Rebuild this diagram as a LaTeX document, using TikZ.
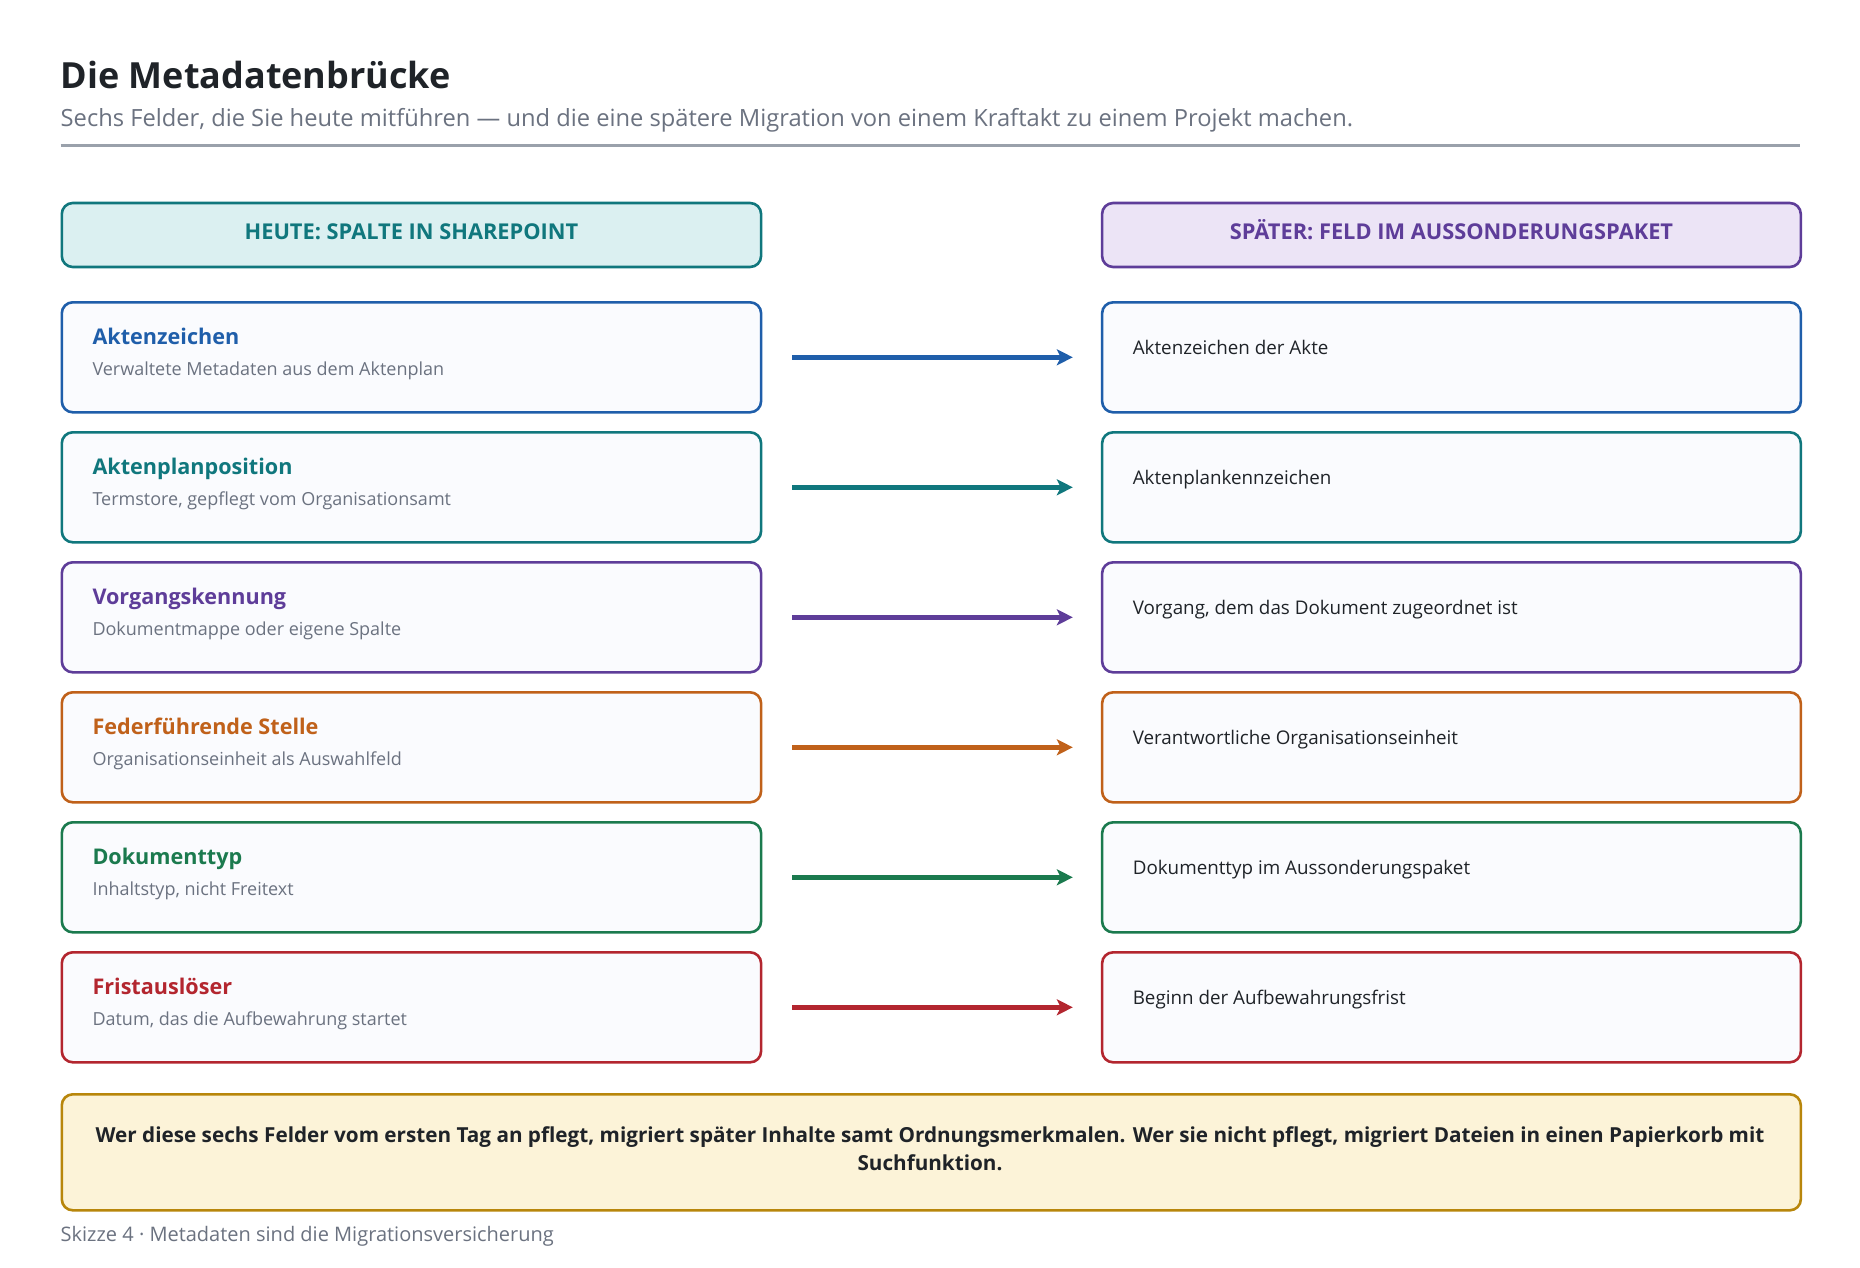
\documentclass[tikz,border=0pt]{standalone}
\usepackage{fontspec}
\setmainfont{Open Sans}
\usetikzlibrary{arrows.meta}
\definecolor{ink}{HTML}{1F2328}
\definecolor{muted}{HTML}{6B7280}
\definecolor{rulegray}{HTML}{9AA1AB}
\definecolor{cblue}{HTML}{1F5EAA}
\definecolor{cteal}{HTML}{10777D}
\definecolor{cpurple}{HTML}{5E3D99}
\definecolor{corange}{HTML}{C0611A}
\definecolor{cgreen}{HTML}{1B7A4E}
\definecolor{cred}{HTML}{B3262F}
\definecolor{tealfill}{HTML}{DBF0F1}
\definecolor{purplefill}{HTML}{ECE4F6}
\definecolor{rowfill}{HTML}{FAFBFE}
\definecolor{goldline}{HTML}{B8860B}
\definecolor{goldfill}{HTML}{FCF3D8}
\newcommand{\fs}[1]{\fontsize{#1}{#1}\selectfont}
\tikzset{
  box/.style={draw=#1, line width=2.6pt, rounded corners=11pt, anchor=north west, inner sep=0pt},
  rowbox/.style={box=#1, fill=rowfill, minimum height=110pt},
  lbox/.style={minimum width=699.3pt},
  rbox/.style={minimum width=698.7pt},
  txt/.style={inner sep=0pt, anchor=base west},
  hdrtext/.style={inner sep=0pt, anchor=base, text=#1, font=\fs{21.8}\bfseries},
  rtitle/.style={txt, text=#1, font=\fs{21.6}\bfseries},
  rsub/.style={txt, text=muted, font=\fs{18}},
  rtext/.style={txt, text=ink, font=\fs{18.8}},
  conn/.style={draw=#1, line width=5pt, -{Stealth[length=16pt, width=16pt, inset=4pt]}},
}
\begin{document}
\begin{tikzpicture}[x=1pt, y=-1pt]
\useasboundingbox[fill=white] (0,0) rectangle (1860,1268);

% heading
\node[txt, text=ink, font=\fs{36}\bfseries] (title) at (60.5,89) {Die Metadatenbrücke};
\node[txt, text=muted, font=\fs{23.7}] (subtitle) at (60.5,127) {Sechs Felder, die Sie heute mitführen — und die eine spätere Migration von einem Kraftakt zu einem Projekt machen.};
\coordinate (ruleA) at (60.5,146);
\coordinate (ruleB) at (1799.5,146);
\draw[rulegray, line width=3pt] (ruleA) -- (ruleB);

% column headers
\node[box=cteal, fill=tealfill, lbox, minimum height=64pt] (HL) at (60.5,201.7) {};
\node[box=cpurple, fill=purplefill, rbox, minimum height=64pt] (HR) at (1100.8,201.7) {};
\node[hdrtext=cteal] (HLt) at ([yshift=-4pt]HL.center) {HEUTE: SPALTE IN SHAREPOINT};
\node[hdrtext=cpurple] (HRt) at ([yshift=-4pt]HR.center) {SPÄTER: FELD IM AUSSONDERUNGSPAKET};

% row 1
\node[rowbox=cblue, lbox] (L1) at (60.5,301) {};
\node[rowbox=cblue, rbox] (R1) at (1100.8,301) {};
\node[rtitle=cblue] (L1t) at (92.3,344) {Aktenzeichen};
\node[rsub] (L1s) at (92.3,375) {Verwaltete Metadaten aus dem Aktenplan};
\node[rtext] (R1t) at (1132.6,354) {Aktenzeichen der Akte};
\draw[conn=cblue] ([xshift=30pt]L1.east) -- ([xshift=-28pt]R1.west);

% row 2
\node[rowbox=cteal, lbox] (L2) at (60.5,431) {};
\node[rowbox=cteal, rbox] (R2) at (1100.8,431) {};
\node[rtitle=cteal] (L2t) at (92.3,474) {Aktenplanposition};
\node[rsub] (L2s) at (92.3,505) {Termstore, gepflegt vom Organisationsamt};
\node[rtext] (R2t) at (1132.6,484) {Aktenplankennzeichen};
\draw[conn=cteal] ([xshift=30pt]L2.east) -- ([xshift=-28pt]R2.west);

% row 3
\node[rowbox=cpurple, lbox] (L3) at (60.5,561) {};
\node[rowbox=cpurple, rbox] (R3) at (1100.8,561) {};
\node[rtitle=cpurple] (L3t) at (92.3,604) {Vorgangskennung};
\node[rsub] (L3s) at (92.3,635) {Dokumentmappe oder eigene Spalte};
\node[rtext] (R3t) at (1132.6,614) {Vorgang, dem das Dokument zugeordnet ist};
\draw[conn=cpurple] ([xshift=30pt]L3.east) -- ([xshift=-28pt]R3.west);

% row 4
\node[rowbox=corange, lbox] (L4) at (60.5,691) {};
\node[rowbox=corange, rbox] (R4) at (1100.8,691) {};
\node[rtitle=corange] (L4t) at (92.3,734) {Federführende Stelle};
\node[rsub] (L4s) at (92.3,765) {Organisationseinheit als Auswahlfeld};
\node[rtext] (R4t) at (1132.6,744) {Verantwortliche Organisationseinheit};
\draw[conn=corange] ([xshift=30pt]L4.east) -- ([xshift=-28pt]R4.west);

% row 5
\node[rowbox=cgreen, lbox] (L5) at (60.5,821) {};
\node[rowbox=cgreen, rbox] (R5) at (1100.8,821) {};
\node[rtitle=cgreen] (L5t) at (92.3,864) {Dokumenttyp};
\node[rsub] (L5s) at (92.3,895) {Inhaltstyp, nicht Freitext};
\node[rtext] (R5t) at (1132.6,874) {Dokumenttyp im Aussonderungspaket};
\draw[conn=cgreen] ([xshift=30pt]L5.east) -- ([xshift=-28pt]R5.west);

% row 6
\node[rowbox=cred, lbox] (L6) at (60.5,951) {};
\node[rowbox=cred, rbox] (R6) at (1100.8,951) {};
\node[rtitle=cred] (L6t) at (92.3,994) {Fristauslöser};
\node[rsub] (L6s) at (92.3,1025) {Datum, das die Aufbewahrung startet};
\node[rtext] (R6t) at (1132.6,1004) {Beginn der Aufbewahrungsfrist};
\draw[conn=cred] ([xshift=30pt]L6.east) -- ([xshift=-28pt]R6.west);

% conclusion
\node[box=goldline, fill=goldfill, minimum width=1739pt, minimum height=116pt] (note) at (60.5,1093) {};
\node[inner sep=0pt, anchor=base, text=ink, font=\fs{20.7}\bfseries] (note1) at (930,1142) {Wer diese sechs Felder vom ersten Tag an pflegt, migriert später Inhalte samt Ordnungsmerkmalen. Wer sie nicht pflegt, migriert Dateien in einen Papierkorb mit};
\node[inner sep=0pt, anchor=base, text=ink, font=\fs{20.7}\bfseries] (note2) at (930,1170) {Suchfunktion.};

% caption
\node[txt, text=muted, font=\fs{20}] (caption) at (60.5,1241) {Skizze 4 · Metadaten sind die Migrationsversicherung};
\end{tikzpicture}
\end{document}
